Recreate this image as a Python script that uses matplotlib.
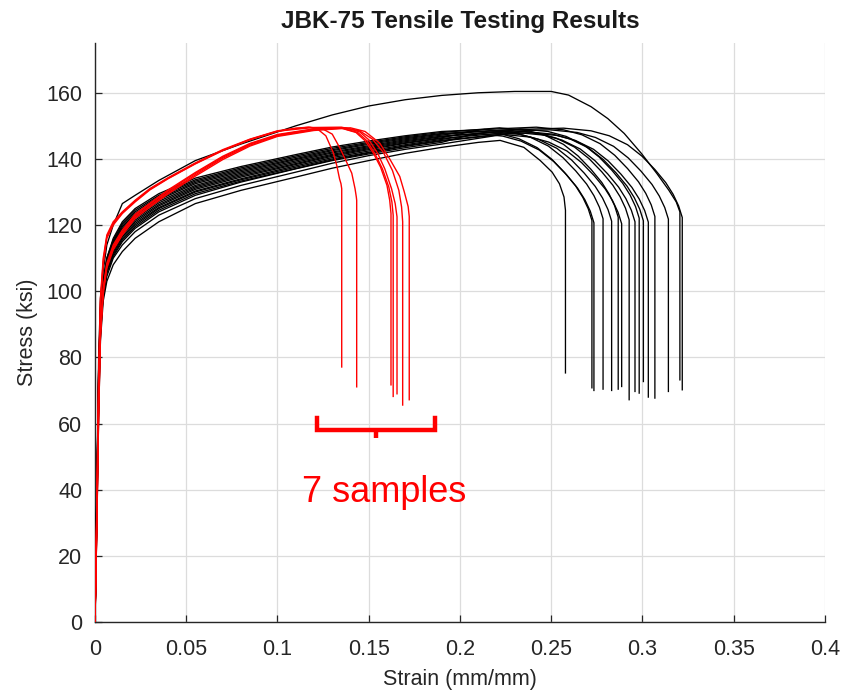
import matplotlib
matplotlib.use("Agg")
import matplotlib.pyplot as plt

# ---------------- data ----------------
hard_strain = [0, 0.001, 0.002, 0.003, 0.0045, 0.0065, 0.01, 0.015, 0.022, 0.035, 0.055, 0.08,
               0.11, 0.13, 0.15, 0.17, 0.19]

black_hard = [
    [0, 28, 62, 85, 97, 103, 108, 112, 116, 121, 126.5, 130.5, 134.5, 137.2, 139.5, 141.7, 143.5],
    [0, 35, 71, 91, 101, 107.5, 113, 117.5, 121.5, 126.2, 131.2, 134.9, 138.6, 141.1, 143.1, 144.9, 146.4],
    [0, 32, 67, 88, 99, 105.5, 110.5, 115, 119, 124, 129, 133, 137, 139.5, 141.5, 143.4, 145],
    [0, 36, 73, 92.5, 102, 108.5, 114.5, 119, 123, 127.7, 132.5, 136.1, 139.8, 142.1, 144, 145.8, 147.2],
    [0, 33, 69, 90, 100, 106.5, 112, 116.5, 120.5, 125.3, 130.3, 134, 137.9, 140.4, 142.4, 144.3, 145.9],
    [0, 38, 76, 94.5, 103, 110, 115.5, 120.5, 124.5, 129, 133.7, 137.3, 140.9, 143.2, 145, 146.7, 148],
    [0, 30, 65, 87, 98.5, 104.5, 110, 114, 118, 123, 128, 132, 136, 138.7, 141, 142.9, 144.5],
    [0, 35, 72, 91.5, 101, 108, 113.5, 118, 122, 126.7, 131.6, 135.3, 139, 141.4, 143.4, 145.2, 146.7],
    [0, 33, 68, 89.5, 100, 106, 111.5, 116, 120, 125, 130, 133.7, 137.5, 140.0, 142, 144.0, 145.6],
    [0, 37, 74, 93, 102, 109, 115, 119.5, 123.5, 128.1, 132.9, 136.5, 140.1, 142.5, 144.4, 146.1, 147.5],
    [0, 34, 70, 90.5, 100.5, 107, 112.5, 117, 121, 125.8, 130.8, 134.5, 138.3, 140.8, 142.8, 144.7, 146.2],
    [0, 32, 68, 89, 99.5, 106, 111, 115.5, 119.5, 124.5, 129.5, 133.3, 137.1, 139.7, 141.8, 143.8, 145.4],
    [0, 39, 76, 95, 103.5, 110, 116, 121, 125, 129.5, 134.2, 137.7, 141.3, 143.6, 145.4, 147.0, 148.3],
    [0, 36, 72, 92, 101.5, 108, 114, 118.5, 122.5, 127.2, 132, 135.7, 139.4, 141.8, 143.7, 145.5, 146.9],
    [0, 40, 80, 98, 106, 114, 120, 126.5, 129, 133.5, 139.5, 144.5, 150, 153.3, 156, 157.9, 159.2],
    [0, 38, 75, 94, 102.5, 109.5, 115, 120, 124, 128.6, 133.3, 136.9, 140.5, 142.8, 144.7, 146.4, 147.7],
]

black_tail_strain = [
    [0.21, 0.222, 0.235, 0.244, 0.2505, 0.2545, 0.257, 0.2578, 0.2578],
    [0.2073, 0.2223, 0.2323, 0.2423, 0.2503, 0.2573, 0.2633, 0.2673, 0.2703, 0.2723, 0.2723],
    [0.2084, 0.2234, 0.2334, 0.2434, 0.2514, 0.2584, 0.2644, 0.2684, 0.2714, 0.2734, 0.2734],
    [0.2134, 0.2284, 0.2384, 0.2484, 0.2564, 0.2634, 0.2694, 0.2734, 0.2764, 0.2784, 0.2784],
    [0.2181, 0.2331, 0.2431, 0.2531, 0.2611, 0.2681, 0.2741, 0.2781, 0.2811, 0.2831, 0.2831],
    [0.2217, 0.2367, 0.2467, 0.2567, 0.2647, 0.2717, 0.2777, 0.2817, 0.2847, 0.2867, 0.2867],
    [0.2236, 0.2386, 0.2486, 0.2586, 0.2666, 0.2736, 0.2796, 0.2836, 0.2866, 0.2886, 0.2886],
    [0.2277, 0.2427, 0.2527, 0.2627, 0.2707, 0.2777, 0.2837, 0.2877, 0.2907, 0.2927, 0.2927],
    [0.225, 0.2309, 0.2459, 0.2559, 0.2659, 0.2739, 0.2809, 0.2869, 0.2909, 0.2939, 0.2959, 0.2959],
    [0.225, 0.2332, 0.2482, 0.2582, 0.2682, 0.2762, 0.2832, 0.2892, 0.2932, 0.2962, 0.2982, 0.2982],
    [0.225, 0.2355, 0.2505, 0.2605, 0.2705, 0.2785, 0.2855, 0.2915, 0.2955, 0.2985, 0.3005, 0.3005],
    [0.225, 0.2382, 0.2532, 0.2632, 0.2732, 0.2812, 0.2882, 0.2942, 0.2982, 0.3012, 0.3032, 0.3032],
    [0.225, 0.2418, 0.2568, 0.2668, 0.2768, 0.2848, 0.2918, 0.2978, 0.3018, 0.3048, 0.3068, 0.3068],
    [0.225, 0.2492, 0.2642, 0.2742, 0.2842, 0.2922, 0.2992, 0.3052, 0.3092, 0.3122, 0.3142, 0.3142],
    [0.21, 0.23, 0.25, 0.2595, 0.2718, 0.281, 0.29, 0.2995, 0.308, 0.3145, 0.3185, 0.3205, 0.3205],
    [0.225, 0.2568, 0.2718, 0.2818, 0.2918, 0.2998, 0.3068, 0.3128, 0.3168, 0.3198, 0.3218, 0.3218],
]

black_tail_stress = [
    [145, 145.6, 143.5, 139.5, 136, 132.5, 128.5, 124.5, 75.3],
    [148.4, 147.6, 146.1, 143.4, 139.9, 135.9, 131.9, 128.4, 124.9, 121.4, 70.8],
    [147.7, 146.9, 145.4, 142.7, 139.2, 135.2, 131.2, 127.7, 124.2, 120.7, 70.0],
    [148.9, 148.1, 146.6, 143.9, 140.4, 136.4, 132.4, 128.9, 125.4, 121.9, 70.4],
    [148.2, 147.4, 145.9, 143.2, 139.7, 135.7, 131.7, 128.2, 124.7, 121.2, 70.0],
    [149.4, 148.6, 147.1, 144.4, 140.9, 136.9, 132.9, 129.4, 125.9, 122.4, 70.4],
    [147.4, 146.6, 145.1, 142.4, 138.9, 134.9, 130.9, 127.4, 123.9, 120.4, 71.2],
    [148.6, 147.8, 146.3, 143.6, 140.1, 136.1, 132.1, 128.6, 125.1, 121.6, 67.2],
    [147.6, 148.0, 147.2, 145.7, 143.0, 139.5, 135.5, 131.5, 128.0, 124.5, 121.0, 69.7],
    [148.7, 149.1, 148.3, 146.8, 144.1, 140.6, 136.6, 132.6, 129.1, 125.6, 122.1, 69.2],
    [147.9, 148.3, 147.5, 146.0, 143.3, 139.8, 135.8, 131.8, 128.3, 124.8, 121.3, 72.7],
    [147.5, 147.9, 147.1, 145.6, 142.9, 139.4, 135.4, 131.4, 127.9, 124.4, 120.9, 68.0],
    [149.2, 149.6, 148.8, 147.3, 144.6, 141.1, 137.1, 133.1, 129.6, 126.1, 122.6, 67.7],
    [148.3, 148.8, 148.0, 146.5, 143.8, 140.3, 136.3, 132.3, 128.8, 125.3, 121.8, 69.7],
    [160, 160.4, 160.4, 159.3, 155.8, 152.2, 147.7, 141.6, 135.5, 130.5, 127, 124, 73.2],
    [148.8, 149.3, 148.5, 147.0, 144.3, 140.8, 136.8, 132.8, 129.3, 125.8, 122.3, 70.2],
]

red_strain = [0, 0.001, 0.002, 0.003, 0.0045, 0.0065, 0.01, 0.015, 0.022, 0.03, 0.04, 0.055,
              0.07, 0.085, 0.1]

red_hard = [
    [0, 35, 75, 98, 110, 117, 121, 124, 127.5, 131, 134.3, 138.8, 142.8, 146, 148.5],
    [0, 33, 72, 96, 108, 116, 120, 123.5, 127, 130.6, 134, 138.5, 142.5, 145.8, 148.3],
    [0, 30, 65, 88, 100, 108, 113, 117.5, 122.5, 125.8, 129.8, 135.2, 140.2, 144.2, 147],
    [0, 28, 62, 86, 99, 107, 112.5, 117, 122, 125.4, 129.4, 134.8, 139.8, 143.9, 146.8],
    [0, 29, 64, 87, 100, 107.5, 113.5, 118, 123, 126.3, 130.3, 135.6, 140.5, 144.5, 147.2],
    [0, 34, 73, 97, 109, 116.5, 120.5, 123.8, 127.3, 130.8, 134.1, 138.6, 142.6, 145.9, 148.4],
    [0, 31, 66, 89, 101, 108.5, 114, 118.5, 123.3, 126.6, 130.6, 135.9, 140.8, 144.7, 147.4],
]

red_tail_strain = [
    [0.11, 0.117, 0.122, 0.1265, 0.1305, 0.1325, 0.134, 0.1348, 0.1352, 0.1352],
    [0.11, 0.118, 0.125, 0.13, 0.134, 0.1375, 0.1407, 0.1425, 0.1432, 0.1434, 0.1434],
    [0.12, 0.135, 0.143, 0.148, 0.1525, 0.1565, 0.16, 0.1615, 0.1622, 0.1622],
    [0.12, 0.136, 0.144, 0.149, 0.1535, 0.1575, 0.161, 0.1627, 0.1634, 0.1634],
    [0.12, 0.137, 0.145, 0.15, 0.1548, 0.1588, 0.1625, 0.1645, 0.1655, 0.1655],
    [0.12, 0.135, 0.145, 0.152, 0.158, 0.163, 0.1665, 0.168, 0.1686, 0.1686],
    [0.12, 0.14, 0.148, 0.156, 0.1615, 0.167, 0.1695, 0.1716, 0.1722, 0.1722],
]

red_tail_stress = [
    [149.3, 149.6, 149, 147, 142, 138, 134, 132.5, 131, 77.1],
    [149.2, 149.6, 149, 147.5, 143.5, 139.5, 135.7, 131, 128.5, 127.5, 71.1],
    [148.8, 149.3, 148, 145.5, 141.8, 137.5, 132, 127.5, 123.5, 71.7],
    [148.6, 149.2, 148, 145.5, 141.5, 137, 131.5, 127, 123, 68.2],
    [149, 149.4, 148.2, 145.8, 141.8, 137, 131, 126.5, 122.5, 69],
    [149.5, 149.6, 148.5, 146, 142, 136.5, 130.5, 125.5, 121, 65.6],
    [149.1, 149.4, 148.3, 144.8, 140, 134.7, 130, 125.6, 122.6, 67.2],
]

x_ticks = [0, 0.05, 0.1, 0.15, 0.2, 0.25, 0.3, 0.35, 0.4]
x_tick_labels = ["0", "0.05", "0.1", "0.15", "0.2", "0.25", "0.3", "0.35", "0.4"]
y_ticks = [0, 20, 40, 60, 80, 100, 120, 140, 160]

title = "JBK-75 Tensile Testing Results"
x_label = "Strain (mm/mm)"
y_label = "Stress (ksi)"
note = "7 samples"

# ---------------- drawing ----------------
plt.rcParams['font.family'] = ['Liberation Sans', 'DejaVu Sans']

fig = plt.figure(figsize=(8.45, 6.96), dpi=100)
ax = fig.add_axes([0.1124, 0.1063, 0.8639, 0.8317])

for hs, ts, tv in zip(black_hard, black_tail_strain, black_tail_stress):
    ax.plot(hard_strain + ts, hs + tv, color='black', lw=0.95, zorder=3)

for hs, ts, tv in zip(red_hard, red_tail_strain, red_tail_stress):
    ax.plot(red_strain + ts, hs + tv, color='#ff0000', lw=1.0, zorder=4)

# bracket annotation
ax.plot([0.1216, 0.1216, 0.1863, 0.1863], [61.7, 58.0, 58.0, 61.7], color='#ff0000',
        lw=3.2, solid_joinstyle='miter', zorder=5)
ax.plot([0.154, 0.154], [58.0, 55.6], color='#ff0000', lw=3.2, solid_capstyle='butt', zorder=5)
ax.text(0.1585, 39.3, note, color='#ff0000', fontsize=26, ha='center', va='center', zorder=6)

ax.set_xlim(0, 0.4)
ax.set_ylim(0, 175)
ax.set_xticks(x_ticks)
ax.set_xticklabels(x_tick_labels)
ax.set_yticks(y_ticks)

ax.grid(True, color='#dcdcdc', lw=0.9)
ax.set_axisbelow(True)
for s in ['top', 'right']:
    ax.spines[s].set_visible(False)
for s in ['left', 'bottom']:
    ax.spines[s].set_color('#262626')
    ax.spines[s].set_linewidth(1.0)

ax.tick_params(direction='in', length=5, width=0.9, colors='#262626', labelsize=15.5,
               labelcolor='#262626')
ax.tick_params(axis='x', pad=12)
ax.tick_params(axis='y', pad=9)

ax.set_title(title, fontsize=17.5, fontweight='bold', color='#1a1a1a', pad=11)
ax.set_xlabel(x_label, fontsize=15.5, color='#262626', labelpad=7)
ax.set_ylabel(y_label, fontsize=15.5, color='#262626', labelpad=6)

fig.savefig('out.png', dpi=100)
